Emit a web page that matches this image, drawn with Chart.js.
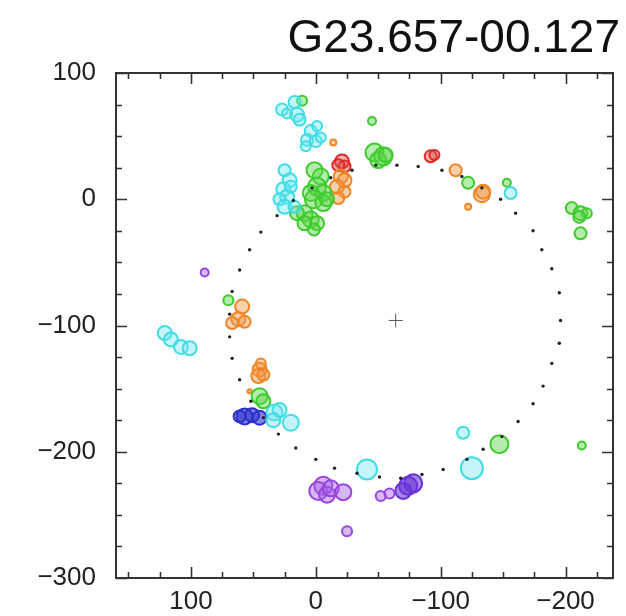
<!DOCTYPE html>
<html>
<head>
<meta charset="utf-8">
<script src="https://cdn.jsdelivr.net/npm/chart.js@4.4.1/dist/chart.umd.min.js"></script>
<style>
    html, body { margin: 0; padding: 0; background: #fff; }
</style>
</head>
<body>
<canvas id="spotChart" width="626" height="616"></canvas>
<script>
const chartTitle = 'G23.657-00.127';

// axis ticks (minor every 25, labels every 100)
const xTickValues = [150, 125, 100, 75, 50, 25, 0, -25, -50, -75, -100, -125, -150, -175, -200, -225];
const yTickValues = [100, 75, 50, 25, 0, -25, -50, -75, -100, -125, -150, -175, -200, -225, -250, -275, -300];
const xLabelValues = [100, 0, -100, -200];
const yLabelValues = [100, 0, -100, -200, -300];

// fitted ring (dots) and its centre
const ringX = [69, 69, 67, 61, 52, 42, 30, 16, 0, -15, -33, -51, -68, -85, -102, -121, -134, -149, -162, -174, -182, -189, -195, -196, -195, -189, -181, -174, -160, -148, -133, -117, -101, -82, -65, -48, -29, -12, 3, 18, 31, 44, 53, 61, 67];
const ringY = [-91, -109, -126, -143, -160, -173, -186, -197, -206, -213, -217, -220, -221, -218, -214, -206, -198, -188, -176, -162, -148, -130, -114, -96, -74, -55, -40, -25, -11, 0, 9, 18, 23, 26, 27, 27, 23, 17, 9, -1, -13, -26, -40, -56, -73];
const centreX = [-64];
const centreY = [-96];

// maser spots grouped by colour (velocity); intensity sets the circle size
const cyanX = [27, 17, 15, 13, 23, 4, -1, 7, 0, -4, 8, 25, 21, 26, 23, 29, 25, 20, 17, -156, 121, 116, 108, 101, 33, 29, 34, 20, -41, -118, -125];
const cyanY = [71, 77, 67, 63, 68, 54, 58, 47, 46, 49, 42, 23, 15, 8, 2, 0, -6, 10, -6, 5, -106, -111, -117, -118, -169, -167, -175, -177, -214, -185, -213];
const cyanI = [6, 6, 7, 6, 5, 6, 5, 6, 6, 5, 5, 6, 7, 7, 7, 6, 7, 6, 6, 6, 7, 7, 7, 7, 8, 7, 7, 8, 10, 6, 11];

const greenX = [11, 1, -4, -1, 4, -6, 1.5, -6, 9, 15, 4, -1, 9, 1.5, -9, -45, -47, -54, -50, -56, -122, -153, -205, -212, -217, -211, -212, 70, 45, 42, -147, -213];
const greenY = [78, 23, 18, 10, 5, 5, 0, -3, -11, -11, -16, -19, -19, -24, 0, 62, 37, 34, 31, 35, 13, 13, -7, -11, -11, -14, -27, -80, -156, -160, -194, -195];
const greenI = [5, 8, 8, 9, 8, 8, 9, 8, 8, 7, 8, 7, 7, 6, 7, 4, 9, 9, 8, 7, 6, 4, 6, 7, 5, 6, 6, 5, 8, 7, 9, 4];

const orangeX = [-14, -20, -23, -17, -23, -18, -112, -133, -134, -122, 59, 62, 67, 57, 45, 46, 42, 44, 53];
const orangeY = [45, 18, 15, 10, 6, 1, 23, 4, 6, -6, -85, -95, -98, -97, -135, -140, -139, -130, -152];
const orangeI = [3, 7, 7, 7, 6, 6, 6, 8, 7, 3, 7, 7, 6, 6, 7, 7, 6, 5, 2];

const redX = [-21, -23, -18, -92, -95];
const redY = [30, 26, 27, 34, 35];
const redI = [7, 6, 6, 6, 5];

const blueX = [57, 51, 45, 61];
const blueY = [-172, -171, -173, -172];
const blueI = [8, 7, 7, 6];

const purpleX = [89, -6, -2, -9, -12, -22, -25, -52, -59];
const purpleY = [-58, -227, -231, -234, -229, -232, -263, -235, -233];
const purpleI = [4, 9, 9, 8, 8, 8, 5, 5, 5];

const violetX = [-74, -78, -70];
const violetY = [-227, -225, -231];
const violetI = [9, 9, 8];

function points(xs, ys) {
    return xs.map((x, i) => ({ x: x, y: ys[i] }));
}

function spotSet(xs, ys, sizes, color, fill) {
    return {
        data: points(xs, ys),
        pointRadius: ctx => sizes[ctx.dataIndex],
        pointBorderWidth: 2,
        borderColor: color,
        backgroundColor: fill,
        order: 2
    };
}

function fmt(v) {
    return v < 0 ? '\u2212' + Math.abs(v) : String(v);
}

// inward ticks on all four sides plus the frame
const frameTicks = {
    id: 'frameTicks',
    beforeDatasetsDraw(chart) {
        const { ctx, chartArea: a, scales: { x, y } } = chart;
        ctx.save();
        ctx.strokeStyle = '#333';
        ctx.lineWidth = 1.6;
        ctx.beginPath();
        xTickValues.forEach(v => {
            const px = Math.round(x.getPixelForValue(v)) + 0.5;
            const len = v % 100 === 0 ? 11 : 6;
            ctx.moveTo(px, a.bottom); ctx.lineTo(px, a.bottom - len);
            ctx.moveTo(px, a.top); ctx.lineTo(px, a.top + len);
        });
        yTickValues.forEach(v => {
            const py = Math.round(y.getPixelForValue(v)) + 0.5;
            const len = v % 100 === 0 ? 11 : 6;
            ctx.moveTo(a.left, py); ctx.lineTo(a.left + len, py);
            ctx.moveTo(a.right, py); ctx.lineTo(a.right - len, py);
        });
        ctx.stroke();
        ctx.lineWidth = 2;
        ctx.strokeRect(a.left, a.top, a.right - a.left, a.bottom - a.top);
        ctx.restore();
    }
};

const titleText = {
    id: 'titleText',
    afterDraw(chart) {
        const ctx = chart.ctx;
        ctx.save();
        ctx.font = '46px "Liberation Sans", Arial, sans-serif';
        ctx.fillStyle = '#111';
        ctx.textAlign = 'right';
        ctx.textBaseline = 'alphabetic';
        ctx.fillText(chartTitle, 620, 52);
        ctx.restore();
    }
};

const tickFont = { family: '"Liberation Sans", Arial, sans-serif', size: 26 };

new Chart(document.getElementById('spotChart'), {
    type: 'scatter',
    data: {
        datasets: [
            {
                data: points(ringX, ringY),
                pointRadius: 1.7,
                pointBorderWidth: 0,
                backgroundColor: '#222',
                borderColor: '#222',
                order: 0
            },
            {
                data: points(centreX, centreY),
                pointStyle: 'cross',
                pointRadius: 7,
                pointBorderWidth: 1,
                borderColor: '#555',
                order: 0
            },
            spotSet(cyanX, cyanY, cyanI, '#3fdce6', 'rgba(110,230,238,0.4)'),
            spotSet(greenX, greenY, greenI, '#3ccc2c', 'rgba(90,210,70,0.45)'),
            spotSet(orangeX, orangeY, orangeI, '#ee8626', 'rgba(240,150,70,0.45)'),
            spotSet(redX, redY, redI, '#dd2a2a', 'rgba(225,80,70,0.45)'),
            spotSet(blueX, blueY, blueI, '#2830cc', 'rgba(50,50,205,0.6)'),
            spotSet(purpleX, purpleY, purpleI, '#9a44e0', 'rgba(165,100,228,0.45)'),
            spotSet(violetX, violetY, violetI, '#6a30d8', 'rgba(105,55,215,0.6)')
        ]
    },
    options: {
        responsive: false,
        animation: false,
        layout: { padding: { top: 73, right: 6, left: 0, bottom: 0 } },
        plugins: {
            legend: { display: false },
            tooltip: { enabled: false }
        },
        scales: {
            x: {
                type: 'linear',
                reverse: true,
                min: -238,
                max: 160,
                grid: { display: false, drawTicks: false },
                border: { display: false },
                afterBuildTicks: s => { s.ticks = xTickValues.map(v => ({ value: v })); },
                afterFit: s => { s.height = 38; },
                ticks: {
                    autoSkip: false,
                    maxRotation: 0,
                    padding: 8,
                    color: '#222',
                    font: tickFont,
                    callback: v => xLabelValues.includes(v) ? fmt(v) : ''
                }
            },
            y: {
                type: 'linear',
                min: -300,
                max: 100,
                grid: { display: false, drawTicks: false },
                border: { display: false },
                afterBuildTicks: s => { s.ticks = yTickValues.map(v => ({ value: v })); },
                afterFit: s => { s.width = 116; },
                ticks: {
                    autoSkip: false,
                    padding: 20,
                    color: '#222',
                    font: tickFont,
                    callback: v => yLabelValues.includes(v) ? fmt(v) : ''
                }
            }
        }
    },
    plugins: [frameTicks, titleText]
});
</script>
</body>
</html>
